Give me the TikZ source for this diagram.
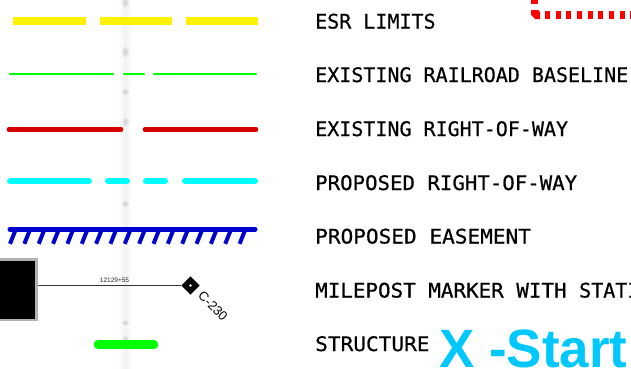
\documentclass[tikz,border=0pt]{standalone}
\usepackage{fontspec}
\usepackage{graphicx}
\usetikzlibrary{shapes.geometric}
\setmainfont{Liberation Sans}
\newfontfamily\cadfont[FakeBold=0.5]{DejaVu Sans Mono}
\definecolor{sampred}{HTML}{D40000}
\definecolor{sampcyan}{HTML}{00FFFF}
\definecolor{sampblue}{HTML}{0000CC}
\definecolor{startblue}{HTML}{00C8FF}
\tikzset{
  legendtext/.style={font=\cadfont\fontsize{20}{20}\selectfont,anchor=base west,inner sep=0pt,text=black},
  yellowline/.style={draw=yellow,line width=8pt},
  greenline/.style={draw=green,line width=2.3pt,line cap=round},
  redline/.style={draw=sampred,line width=4.7pt,line cap=round},
  cyanline/.style={draw=sampcyan,line width=6pt,line cap=round},
  blueline/.style={draw=sampblue,line width=5pt,line cap=round},
  hatchline/.style={draw=sampblue,line width=4pt},
  reddot/.style={fill=red,draw=none},
  smudge/.style={left color=white,right color=white,middle color=black!5,draw=none}
}
\begin{document}
\begin{tikzpicture}[x=1pt,y=-1pt]
\useasboundingbox (0,0) rectangle (631,368);
\fill[white] (0,0) rectangle (631,368);
% faint scanned band
\shade[smudge] (118,0) rectangle (132,368);
\foreach \yy/\hh in {3/5,52/6,92/4,122/5,204/4,323/3,339/3}{
  \foreach \k in {1,0.75,0.5,0.25}{
    \fill[black,opacity=0.035] (125.5,\yy) ellipse [x radius={4*\k},y radius={\hh*\k}];
  }
}
% samples
\draw[yellowline] (13,21) -- (86,21) (100,21) -- (172,21) (186,21) -- (258,21);
\draw[greenline] (10,73.7) -- (113,73.7) (124,73.7) -- (144,73.7) (154,73.7) -- (256,73.7);
\draw[redline] (9,129.5) -- (121,129.5) (145,129.5) -- (256,129.5);
\draw[cyanline] (10,181) -- (89,181) (108,181) -- (127,181) (146,181) -- (165,181) (185,181) -- (255,181);
\foreach \i in {0,...,16}{
  \draw[hatchline] ({15.5+14.35*\i},230) -- ({10+14.35*\i},243.8);
}
\draw[blueline] (10,229.3) -- (255,229.3);
\node[draw=black!30,line width=2.5pt,fill=black,minimum width=50pt,minimum height=60.5pt,inner sep=0pt,anchor=east] (box) at (37.5,289.7) {};
\node[fill=black,diamond,shape aspect=1,minimum size=18.5pt,inner sep=0pt] (mile) at (190.5,285.5) {};
\fill[white] (mile.center) circle (1.3pt);
\draw[black!80,line width=1.3pt] (box.east |- mile) -- (mile.west);
\node[font=\fontsize{6.5}{7}\selectfont,inner sep=0pt,text=black!85] (station) at (114.5,280.5) {12129+55};
\node[font=\fontsize{13}{14}\selectfont,rotate=-45,inner sep=0pt] (clabel) at (213,306) {C-230};
\draw[draw=green,line width=8.5pt,line cap=round] (98,344.7) -- (154,344.7);
% red dotted boundary
\fill[reddot] (531,0) rectangle (538,4);
\fill[reddot] (531,10) -- (538,10) -- (540,12) -- (540,19) -- (535,19) -- (531,15) -- cycle;
\foreach \i in {0,...,8}{
  \fill[reddot] ({545+10.67*\i},11) rectangle ++(5,8);
}
% labels
\node[legendtext] (l1) at (315,28.5) {ESR LIMITS};
\node[legendtext] (l2) at (315,82) {EXISTING RAILROAD BASELINE};
\node[legendtext] (l3) at (315,136) {EXISTING RIGHT-OF-WAY};
\node[legendtext] (l4) at (315,190) {\scalebox{1.036}[1]{PROPOSED RIGHT-OF-WAY}};
\node[legendtext] (l5) at (315,243.5) {\scalebox{1.054}[1]{PROPOSED EASEMENT}};
\node[legendtext] (l6) at (315,297.5) {\scalebox{1.044}[1]{MILEPOST MARKER WITH }STATION};
\node[legendtext] (l7) at (315,351) {\scalebox{1.055}[1]{STRUCTURE}};
\node[font=\bfseries\fontsize{54}{55}\selectfont,text=startblue,anchor=base west,inner sep=0pt] (start) at (439,367) {\scalebox{0.98}[1]{X -Start}};
\end{tikzpicture}
\end{document}
